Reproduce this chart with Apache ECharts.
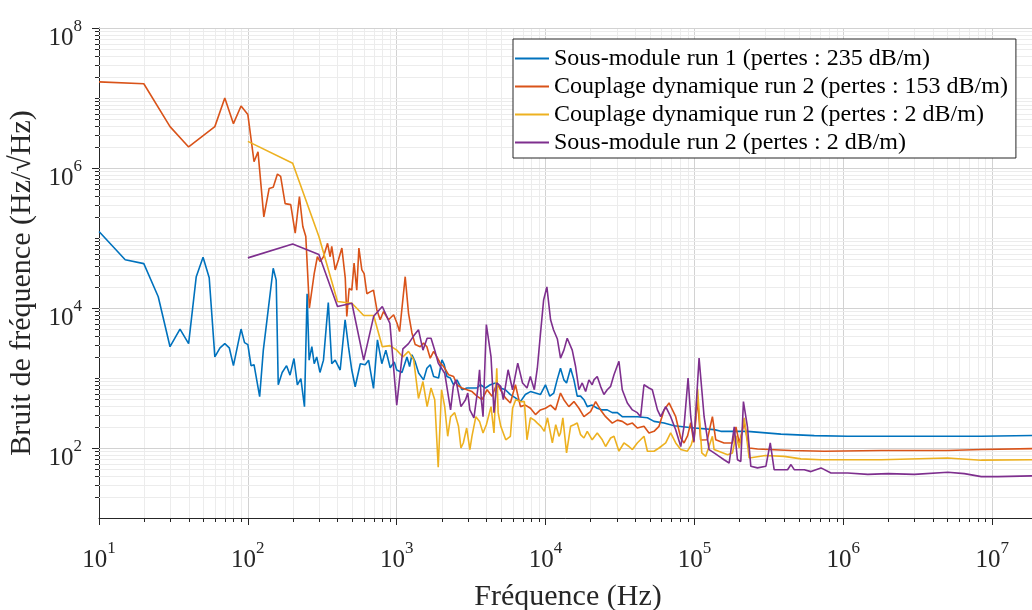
<!DOCTYPE html>
<html><head><meta charset="utf-8">
<script src="https://cdn.jsdelivr.net/npm/echarts@6/dist/echarts.min.js"></script>
<style>html,body{margin:0;padding:0;background:#fff}#c{width:1032px;height:610px}</style>
</head><body><div id="c"></div>
<script>
const seriesNames = [
  'Sous-module run 1 (pertes : 235 dB/m)',
  'Couplage dynamique run 2 (pertes : 153 dB/m)',
  'Couplage dynamique run 2 (pertes : 2 dB/m)',
  'Sous-module run 2 (pertes : 2 dB/m)'
];
const seriesColors = ['#0072BD', '#D95319', '#EDB120', '#7E2F8E'];
const xTickExponents = [1, 2, 3, 4, 5, 6, 7];
const yTickExponents = [2, 4, 6, 8];
const xMin = 10, xMax = 2e7, yMin = 10, yMax = 1e8;

const blueRun1 = [[10,1.24e5],[15,4.9e4],[20,4.3e4],[25,1.45e4],[30,2.8e3],[35,5.0e3],[40,3.1e3],[45,2.8e4],[50,5.3e4],[55,2.7e4],[60,2.0e3],[65,2.7e3],[70,3.1e3],[75,2.7e3],[80,1.5e3],[90,5.0e3],[95,3.2e3],[100,3.0e3],[105,1.5e3],[110,1.55e3],[120,5.4e2],[127,2.5e3],[134,6.4e3],[148,3.7e4],[155,2.5e4],[160,8e2],[170,1.2e3],[182,1.5e3],[192,1.1e3],[204,1.9e3],[215,8e2],[227,9.8e2],[240,3.9e2],[250,1.6e4],[258,1.8e3],[269,2.8e3],[279,1.6e3],[290,2.0e3],[305,1.2e3],[322,1.8e3],[347,1.2e4],[366,1.6e3],[386,1.8e3],[417,1.3e3],[450,6.8e3],[474,2.8e3],[499,1.3e3],[526,7.5e2],[569,1.6e3],[614,1.55e3],[647,1.8e3],[698,7.1e2],[742,3.5e3],[794,1.6e3],[845,2.5e3],[904,1.4e3],[962,1.7e3],[1000,1.3e3],[1084,1.2e3],[1172,2.0e3],[1220,1.46e3],[1265,2.15e3],[1331,1.7e3],[1403,1.18e3],[1514,9.4e2],[1594,1.38e3],[1679,1.55e3],[1770,1.05e3],[1910,1.0e3],[2013,1.82e3],[2085,1.55e3],[2174,1.05e3],[2290,1.0e3],[2410,8e2],[2540,9.4e2],[2742,6.8e2],[2965,7.2e2],[3205,7.2e2],[3460,7.2e2],[3645,8e2],[3940,7.2e2],[4255,8e2],[4600,8.5e2],[4970,7.2e2],[5370,6.8e2],[5800,5.8e2],[6270,5.2e2],[6780,4.6e2],[7310,5.8e2],[7910,6.4e2],[8550,6.1e2],[9230,5.8e2],[9980,8e2],[10670,5.5e2],[11350,6.1e2],[11950,9.4e2],[12590,1.38e3],[13270,9.4e2],[13830,8.5e2],[14720,1.38e3],[15500,9.4e2],[16310,5.5e2],[17180,5.5e2],[18090,4.9e2],[19050,3.9e2],[20560,4.1e2],[22230,3.7e2],[24030,3.5e2],[25940,3.5e2],[28050,3.2e2],[30340,3.2e2],[32730,2.8e2],[35400,2.8e2],[41300,2.8e2],[48300,2.7e2],[53500,2.4e2],[62500,2.27e2],[72900,2.08e2],[99500,1.93e2],[136000,1.83e2],[150300,1.73e2],[227500,1.73e2],[381000,1.58e2],[638000,1.5e2],[1.07e6,1.47e2],[3.0e6,1.47e2],[8.45e6,1.47e2],[1.89e7,1.51e2],[2e7,1.51e2]];

const orangeRun2 = [[10,1.7e7],[20,1.6e7],[30,3.9e6],[40,2.0e6],[60,3.9e6],[70,1.0e7],[80,4.3e6],[90,7.7e6],[100,5.8e6],[110,1.23e6],[117,1.7e6],[128,2.0e5],[139,5.1e5],[148,5.3e5],[158,8.2e5],[166,7.6e5],[178,3.1e5],[194,3.0e5],[208,1.17e5],[222,3.9e5],[234,1.46e5],[245,1.05e5],[259,1.0e4],[279,3.1e4],[293,5.4e4],[306,4.6e4],[322,5.4e4],[343,8.4e4],[357,5.4e4],[366,7.6e4],[386,3.5e4],[406,4.9e4],[428,7.2e4],[451,2.7e4],[462,7.6e3],[479,1.9e4],[499,1.8e4],[517,4.4e4],[539,1.8e4],[557,7.2e4],[583,3.5e4],[604,3.1e4],[630,1.6e4],[663,1.7e4],[698,1.8e4],[736,9.4e3],[774,6.8e3],[815,8.9e3],[881,6.8e3],[953,8.0e3],[1003,6.1e3],[1045,4.6e3],[1140,2.8e4],[1200,8.4e3],[1265,4.4e3],[1331,3.0e3],[1438,2.8e3],[1514,3.15e3],[1594,2.8e3],[1679,1.92e3],[1770,2.4e3],[1862,2.0e3],[1960,1.63e3],[2065,1.46e3],[2233,1.11e3],[2410,1.05e3],[2540,8e2],[2742,7.2e2],[2965,6.8e2],[3205,6.4e2],[3460,5.5e2],[3740,4.9e2],[4045,6.8e2],[4365,5.5e2],[4720,8.5e2],[4970,6.8e2],[5370,5.2e2],[5800,4.4e2],[6270,8e2],[6780,3.9e2],[7310,4.1e2],[7910,3.7e2],[8550,3.0e2],[9230,3.5e2],[9980,3.7e2],[10790,4.1e2],[11650,3.5e2],[12590,6.1e2],[13270,4.9e2],[14330,3.9e2],[15500,4.6e2],[16750,3.7e2],[18090,2.8e2],[20050,3.3e2],[21680,4.6e2],[23400,3.5e2],[25300,2.8e2],[28050,2.27e2],[30340,2.5e2],[32730,2.4e2],[35400,2.15e2],[38300,2.27e2],[41300,1.93e2],[45800,2.04e2],[49500,1.64e2],[53500,1.73e2],[57800,2.04e2],[62500,3.5e2],[67500,4.4e2],[74800,2.8e2],[80900,1.39e2],[85100,1.18e2],[90000,1.5e2],[94400,2.3e2],[99000,1.2e2],[105000,5e2],[110000,1.3e2],[122000,1.31e2],[132000,2.8e2],[139000,1.31e2],[158000,1.18e2],[180000,1.18e2],[190000,2.0e2],[200000,1.18e2],[216000,2.27e2],[233000,1.0e2],[265000,97],[445000,92],[745000,90],[1.8e6,92],[5.0e6,92],[8.5e6,95],[1.89e7,98],[2e7,99]];

const yellowRun2 = [[100,2.4e6],[200,1.17e6],[300,1.05e5],[400,1.24e4],[500,1.17e4],[600,7.8e3],[700,7.8e3],[800,2.8e3],[900,2.9e3],[1000,2.5e3],[1100,2.0e3],[1200,2.4e3],[1300,1.82e3],[1400,5.1e2],[1500,8.9e2],[1600,3.9e2],[1700,7.2e2],[1800,4.9e2],[1900,53],[2000,6.8e2],[2100,3.9e2],[2200,1.47e2],[2300,2.8e2],[2450,3.2e2],[2600,2.04e2],[2700,1.0e2],[2800,1.18e2],[2950,1.93e2],[3100,95],[3200,1.47e2],[3400,2.8e2],[3600,2.4e2],[3800,1.64e2],[4000,2.15e2],[4300,3.9e2],[4500,1.64e2],[4700,1.38e3],[4800,3.2e2],[5000,2.04e2],[5400,1.31e2],[5800,1.47e2],[6000,3.7e2],[6300,4.9e2],[6800,4.6e2],[7200,4.6e2],[7500,1.31e2],[7900,2.7e2],[8400,2.5e2],[8800,2.27e2],[9300,2.04e2],[9800,1.73e2],[10300,2.7e2],[11100,1.18e2],[11700,2.15e2],[12300,1.47e2],[12600,1.64e2],[13060,2.7e2],[13830,85],[14720,2.04e2],[15500,2.15e2],[16310,2.27e2],[17180,1.55e2],[18090,1.39e2],[19050,1.73e2],[20560,1.31e2],[22230,1.64e2],[24030,1.31e2],[25300,1.05e2],[27350,1.39e2],[28800,1.47e2],[31100,90],[33600,1.18e2],[36300,1.05e2],[38300,95],[41300,1.18e2],[45800,1.47e2],[48300,90],[53500,90],[57800,1.0e2],[64100,1.18e2],[69200,1.64e2],[74800,1.18e2],[80900,95],[89700,90],[95000,1.1e2],[100000,1.6e2],[105000,7.0e2],[112000,85],[119000,76],[132000,1.47e2],[135500,95],[167000,80],[180000,85],[190000,1.5e2],[200000,1.0e2],[216000,2.7e2],[233000,72],[300000,78],[401000,76],[519000,70],[708000,68],[1.8e6,68],[5.0e6,72],[8.45e6,67],[1.89e7,68],[2e7,68]];

const purpleRun2 = [[100,5.2e4],[200,8.2e4],[300,5.8e4],[400,1.05e4],[500,1.17e4],[600,1.8e3],[700,7.6e3],[800,1.05e4],[900,6.0e3],[1000,4.1e2],[1100,2.6e3],[1200,3.1e3],[1300,4.0e3],[1400,4.9e3],[1500,2.5e3],[1600,3.7e3],[1700,3.7e3],[1800,2.5e3],[1900,1.63e3],[2100,1.17e3],[2300,3.5e2],[2400,7.6e2],[2500,9.4e2],[2700,3.9e2],[2900,4.9e2],[3000,6.1e2],[3100,3.5e2],[3300,2.7e2],[3500,6.8e2],[3600,1.31e3],[3700,4.9e2],[3800,2.8e2],[4000,5.8e3],[4300,2.0e3],[4500,3.2e2],[4700,8.5e2],[5000,7.6e2],[5200,4.9e2],[5600,1.31e3],[6000,6.8e2],[6500,1.63e3],[7000,8.5e2],[7500,7.2e2],[7900,1.05e3],[8400,6.8e2],[8800,1.38e3],[9200,3.9e3],[9700,1.3e4],[10200,2.0e4],[10800,6.8e3],[11300,4.9e3],[12000,3.6e3],[12600,1.92e3],[13270,2.5e3],[13970,3.7e3],[15100,2.5e3],[15900,1.46e3],[16750,6.8e2],[17620,8.5e2],[18570,6.4e2],[19540,9.4e2],[20560,8e2],[21130,9.4e2],[22230,1.05e3],[23400,7.6e2],[24650,5.8e2],[25940,6.8e2],[27350,7.6e2],[28800,1.11e3],[31100,1.73e3],[32730,6.8e2],[35400,4.4e2],[38300,3.5e2],[41300,3.2e2],[43500,2.8e2],[45800,8e2],[49500,7.2e2],[52100,6.8e2],[56400,3.5e2],[59300,2.8e2],[64100,3.9e2],[69200,2.8e2],[74800,1.82e2],[80900,1.05e2],[85100,2.04e2],[90600,1.0e3],[94400,2.8e2],[99300,1.24e2],[107400,1.92e3],[116100,2.8e2],[125400,95],[135500,85],[146500,76],[158000,68],[171000,61],[185000,2.0e2],[194500,68],[204800,64],[213300,4.6e2],[227000,2.0e2],[239000,55],[265000,52],[302000,55],[323000,1.18e2],[343000,49],[422000,49],[445000,58],[468000,49],[547000,49],[606000,46],[708000,52],[826000,44],[1.07e6,44],[1.46e6,42],[2.0e6,43],[3.0e6,42],[5.04e6,45],[6.5e6,43],[8.45e6,39],[1.09e7,39],[1.89e7,40],[2e7,40]];

const seriesData = [blueRun1, orangeRun2, yellowRun2, purpleRun2];

// minor tick / grid values (log decades)
const xMinor = [];
for (let n = 1; n <= 7; n++) for (let k = 2; k <= 9; k++) { const v = k * Math.pow(10, n); if (v <= xMax) xMinor.push([v, yMin]); }
const yGrid = [];
for (let n = 1; n <= 8; n++) {
  const major = yTickExponents.includes(n);
  if (n > 1) yGrid.push([xMin, Math.pow(10, n), major ? 1 : 0]);
  if (n < 8) for (let k = 2; k <= 9; k++) yGrid.push([xMin, k * Math.pow(10, n), 0]);
}

const AX = '#262626';
const FONT = 'Liberation Serif';
const rich = {
  b: { fontFamily: FONT, fontSize: 25, color: AX, lineHeight: 25, padding: [7, 0, 0, 0] },
  s: { fontFamily: FONT, fontSize: 17, color: AX, lineHeight: 17, padding: [0, 0, 15, 0] }
};
function expLabel(list) {
  return function (v) {
    const l = Math.log10(v), e = Math.round(l);
    if (Math.abs(l - e) > 1e-6 || !list.includes(e)) return '';
    return '{b|10}{s|' + e + '}';
  };
}
const crisp = x => Math.round(x) + 0.5;

const chart = echarts.init(document.getElementById('c'), null, { renderer: 'canvas' });
const lineSeries = seriesNames.map((name, i) => ({
  name, type: 'line', data: seriesData[i], symbol: 'none', showSymbol: false,
  lineStyle: { width: 1.6, color: seriesColors[i] }, itemStyle: { color: seriesColors[i] },
  z: 3, animation: false, clip: true
}));

chart.setOption({
  animation: false,
  backgroundColor: '#fff',
  grid: { left: 99, right: -5, top: 28, bottom: 92, containLabel: false, outerBoundsMode: 'none' },
  xAxis: {
    type: 'log', logBase: 10, min: xMin, max: xMax, interval: 1,
    name: 'Fréquence (Hz)', nameLocation: 'middle', nameGap: 64,
    nameTextStyle: { fontFamily: FONT, fontSize: 30, color: AX },
    axisLine: { show: true, onZero: false, lineStyle: { color: AX, width: 1 } },
    axisTick: { show: true, inside: false, length: 7, lineStyle: { color: AX } },
    axisLabel: { formatter: expLabel(xTickExponents), rich, margin: 26, showMaxLabel: false },
    splitLine: { show: true, lineStyle: { color: '#d2d2d2', width: 1 } },
    minorTick: { show: false }, minorSplitLine: { show: false }
  },
  yAxis: {
    type: 'log', logBase: 10, min: yMin, max: yMax, interval: 1,
    name: 'Bruit de fréquence (Hz/√Hz)', nameLocation: 'middle', nameGap: 57,
    nameTextStyle: { fontFamily: FONT, fontSize: 30, color: AX, padding: [0, 20, 0, 0] },
    axisLine: { show: true, onZero: false, lineStyle: { color: AX, width: 1 } },
    axisTick: { show: false },
    axisLabel: { formatter: expLabel(yTickExponents), rich, margin: 17, padding: [13, 0, 0, 0] },
    splitLine: { show: false }
  },
  legend: {
    data: seriesNames, orient: 'vertical', left: 513, top: 39,
    icon: 'rect', itemWidth: 34, itemHeight: 2, itemGap: 3,
    padding: [7, 8, 3, 2],
    backgroundColor: '#fff', borderColor: AX, borderWidth: 1,
    textStyle: { fontFamily: FONT, fontSize: 24, color: '#000', lineHeight: 25 }
  },
  series: [
    {
      type: 'custom', name: 'xminor', data: xMinor, z: 1, clip: false, silent: true,
      renderItem: function (params, api) {
        const v = api.value(0);
        const t = api.coord([v, yMax]), b = api.coord([v, yMin]);
        const x = crisp(t[0]);
        return { type: 'group', children: [
          { type: 'line', shape: { x1: x, y1: t[1], x2: x, y2: b[1] }, style: { stroke: '#ececec', lineWidth: 1 } },
          { type: 'line', shape: { x1: x, y1: b[1], x2: x, y2: b[1] + 4 }, style: { stroke: AX, lineWidth: 1 } }
        ]};
      }
    },
    {
      type: 'custom', name: 'ygrid', data: yGrid, z: 1, clip: false, silent: true,
      renderItem: function (params, api) {
        const v = api.value(1), major = api.value(2) === 1;
        const l = api.coord([xMin, v]), r = api.coord([xMax, v]);
        const y = crisp(l[1]);
        return { type: 'group', children: [
          { type: 'line', shape: { x1: l[0], y1: y, x2: r[0], y2: y }, style: { stroke: major ? '#d2d2d2' : '#ececec', lineWidth: 1 } },
          { type: 'line', shape: { x1: l[0] - (major ? 7 : 4), y1: y, x2: l[0], y2: y }, style: { stroke: AX, lineWidth: 1 } }
        ]};
      }
    }
  ].concat(lineSeries)
});
</script></body></html>
